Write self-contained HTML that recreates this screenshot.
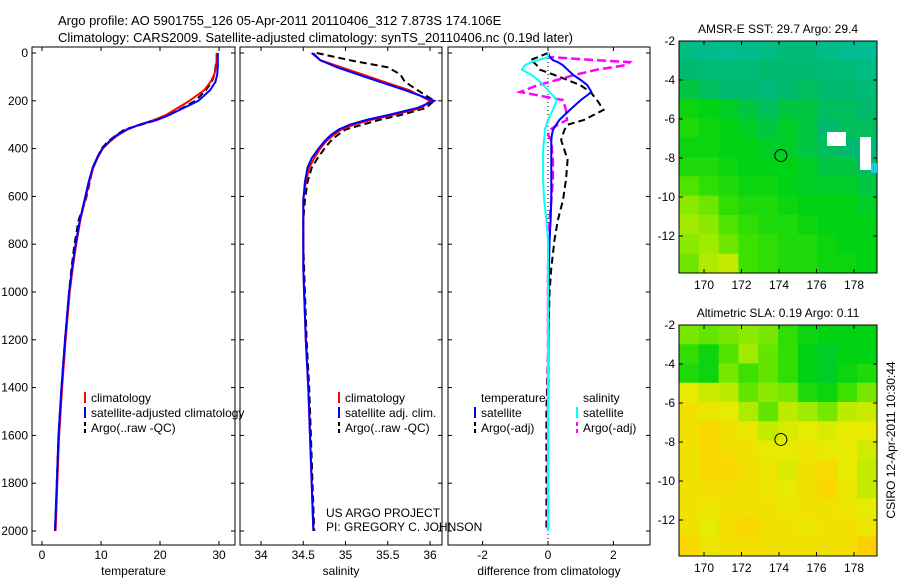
<!DOCTYPE html>
<html><head><meta charset="utf-8"><style>
body{margin:0;background:#fff}
svg{display:block;font-family:"Liberation Sans",sans-serif}
text{font-size:12px;fill:#000}
</style></head><body>
<svg id="fig" width="900" height="580">
<text x="58" y="25" style="font-size:13px">Argo profile: AO 5901755_126 05-Apr-2011 20110406_312 7.873S 174.106E</text>
<text x="58" y="42" style="font-size:13px">Climatology: CARS2009. Satellite-adjusted climatology: synTS_20110406.nc (0.19d later)</text>
</svg>
<script>
const depth=[0,30,60,90,120,155,200,230,260,280,300,320,345,370,400,440,480,540,615,700,800,900,1000,1200,1400,1600,1800,2000];
const tClim=[29.6,29.6,29.5,29.2,28.6,27.5,25.0,23.0,21.0,19.0,16.5,14.5,12.8,11.5,10.3,9.4,8.7,8.0,7.3,6.5,5.8,5.2,4.7,4.0,3.4,2.9,2.6,2.3];
const tSat=[29.8,29.8,29.8,29.7,29.4,28.5,26.5,24.0,21.5,19.5,16.5,14.3,12.6,11.4,10.2,9.3,8.6,7.9,7.2,6.4,5.7,5.1,4.6,3.9,3.3,2.8,2.5,2.2];
const tArgo=[29.7,29.6,29.4,29.2,28.8,27.8,26.0,23.8,21.5,19.5,16.8,14.0,12.5,11.2,10.1,9.3,8.6,8.1,7.4,6.2,5.5,5.0,4.6,3.9,3.3,2.8,2.5,2.2];
const sClim=[34.62,34.7,34.95,35.2,35.45,35.75,36.0,35.9,35.55,35.3,35.1,34.95,34.85,34.77,34.7,34.63,34.57,34.53,34.5,34.5,34.5,34.5,34.51,34.53,34.56,34.58,34.6,34.62];
const sSat=[34.6,34.7,34.9,35.15,35.4,35.7,36.05,35.85,35.5,35.25,35.05,34.92,34.82,34.75,34.68,34.6,34.55,34.52,34.5,34.5,34.5,34.5,34.51,34.53,34.56,34.58,34.6,34.62];
const sArgo=[34.66,35.05,35.5,35.65,35.7,35.85,36.05,35.95,35.65,35.4,35.2,35.0,34.9,34.82,34.75,34.67,34.6,34.55,34.52,34.5,34.5,34.51,34.52,34.54,34.57,34.59,34.61,34.63];
const dDepth=[0,17,30,38,50,70,92,113,134,163,197,238,280,300,322,343,364,406,447,530,615,700,782,900,1000,1500,2000];
const dT=[0.0,0.05,0.15,0.3,0.45,0.6,0.77,1.0,1.2,1.33,1.0,0.67,0.35,0.25,0.15,0.12,0.1,0.1,0.1,0.1,0.1,0.08,0.05,0.03,0.02,0.0,0.0];
const dTa=[0.0,-0.3,-0.55,-0.45,-0.35,-0.25,0.2,0.6,0.98,1.3,1.5,1.7,1.1,0.6,0.5,0.45,0.4,0.5,0.6,0.55,0.46,0.3,0.2,0.1,0.05,-0.05,-0.05];
const dS=[0.0,0.0,-0.3,-0.5,-0.7,-0.8,-0.5,-0.3,-0.15,0.05,0.27,0.15,0.0,-0.05,-0.1,-0.1,-0.12,-0.15,-0.15,-0.15,-0.12,-0.05,0.0,0.0,0.0,0.0,0.0];
const dSa=[0.0,0.05,1.5,2.5,2.4,1.5,0.8,0.27,-0.3,-0.85,0.46,0.55,0.58,0.3,0.05,0.0,0.1,0.12,0.15,0.15,0.1,0.05,0.03,0.0,0.0,0.0,0.0];
const depthTicks=[0,200,400,600,800,1000,1200,1400,1600,1800,2000];
const lonTicks=[170,172,174,176,178];
const sstLat=[-2,-4,-6,-8,-10,-12];
const sslaLat=[-2,-4,-6,-8,-10,-12];
const sstGrid=[
[.36,.34,.33,.34,.36,.38,.38,.35,.33,.32],
[.4,.38,.38,.38,.4,.4,.4,.38,.38,.36],
[.45,.42,.4,.4,.38,.4,.42,.4,.4,.38],
[.52,.5,.48,.45,.42,.45,.45,.42,.42,.4],
[.55,.52,.5,.48,.45,.48,.45,.4,.42,.42],
[.52,.52,.5,.5,.48,.48,.45,.42,.4,.38],
[.55,.55,.52,.5,.5,.5,.48,.45,.45,.42],
[.62,.58,.55,.52,.52,.5,.48,.48,.48,.45],
[.68,.65,.58,.55,.55,.52,.5,.5,.5,.48],
[.7,.68,.62,.58,.55,.55,.52,.5,.5,.5],
[.68,.7,.65,.6,.58,.55,.55,.52,.5,.5],
[.65,.72,.75,.6,.58,.55,.55,.52,.52,.5]];
const sslaGrid=[
[.66,.64,.66,.68,.66,.58,.52,.5,.5,.5],
[.58,.52,.62,.7,.64,.58,.5,.48,.5,.5],
[.55,.52,.66,.6,.64,.58,.5,.48,.52,.55],
[.8,.76,.74,.64,.68,.66,.55,.52,.6,.66],
[.85,.83,.8,.72,.64,.74,.7,.66,.74,.76],
[.85,.9,.85,.82,.75,.78,.8,.78,.8,.8],
[.84,.9,.87,.85,.8,.8,.83,.8,.8,.77],
[.84,.9,.9,.87,.83,.78,.85,.88,.8,.75],
[.85,.87,.87,.85,.83,.8,.85,.9,.83,.75],
[.85,.83,.85,.85,.85,.83,.85,.85,.83,.8],
[.85,.8,.87,.9,.85,.85,.83,.85,.85,.83],
[.9,.83,.85,.87,.85,.85,.85,.85,.87,.93]];
const NS='http://www.w3.org/2000/svg';
const svg=document.getElementById('fig');
function el(t,a,p){const e=document.createElementNS(NS,t);for(const k in a)e.setAttribute(k,a[k]);(p||svg).appendChild(e);return e;}
function txt(x,y,s,anchor,p){const e=el('text',{x:x,y:y,'text-anchor':anchor||'start'},p);e.textContent=s;return e;}
const yD=d=>53+d*0.239;
const panels=[
 {x0:32,x1:235,name:'temperature',xs:v=>42+v*5.9,ticks:[0,10,20,30],label:'temperature'},
 {x0:240,x1:442,name:'salinity',xs:v=>261+(v-34)*84.5,ticks:[34,34.5,35,35.5,36],label:'salinity'},
 {x0:448,x1:650,name:'difference',xs:v=>548+v*32.7,ticks:[-2,0,2],label:'difference from climatology'}];
panels.forEach((p,i)=>{
 const g=el('g',{});
 
 
 el('rect',{x:p.x0,y:47,width:p.x1-p.x0,height:498,fill:'none',stroke:'#000'},g);
 depthTicks.forEach(d=>{const y=yD(d);el('line',{x1:p.x0,x2:p.x0+4,y1:y,y2:y,stroke:'#000'},g);el('line',{x1:p.x1,x2:p.x1-4,y1:y,y2:y,stroke:'#000'},g);
  if(i==0){const t=txt(p.x0-4,y+4,String(d),'end',g);}});
 p.ticks.forEach(v=>{const x=p.xs(v);el('line',{x1:x,x2:x,y1:545,y2:541,stroke:'#000'},g);el('line',{x1:x,x2:x,y1:47,y2:51,stroke:'#000'},g);
  const t=txt(x,559,String(v),'middle',g);});
 const t=txt((p.x0+p.x1)/2,575,p.label,'middle',g);
 p.g=g;});
function line(p,ds,vs,col,dash,w,name){const pts=ds.map((d,i)=>p.xs(vs[i]).toFixed(1)+','+yD(d).toFixed(1)).join(' ');
 const e=el('polyline',{points:pts,fill:'none',stroke:col,'stroke-width':w||2,'stroke-dasharray':dash||'none'},p.g);
 }
line(panels[0],depth,tArgo,'#000','7,4',2,'temp-argo-line');
line(panels[0],depth,tClim,'#f00',null,2,'temp-climatology-line');
line(panels[0],depth,tSat,'#00f',null,2,'temp-satellite-line');
line(panels[1],depth,sArgo,'#000','7,4',2,'sal-argo-line');
line(panels[1],depth,sClim,'#f00',null,2,'sal-climatology-line');
line(panels[1],depth,sSat,'#00f',null,2,'sal-satellite-line');
el('line',{x1:548,x2:548,y1:50,y2:540,stroke:'#000','stroke-dasharray':'1,3'},panels[2].g);
line(panels[2],dDepth,dTa,'#000','7,4',2,'diff-temp-argo-line');
line(panels[2],dDepth,dSa,'#f0f','9,4',2.5,'diff-sal-argo-line');
line(panels[2],dDepth,dT,'#00f',null,2,'diff-temp-satellite-line');
line(panels[2],dDepth,dS,'#0ff',null,2,'diff-sal-satellite-line');
function legend(x,y,items,name){const g=el('g',{});
 items.forEach((it,i)=>{const yy=y+i*15;if(it[1])el('line',{x1:x,x2:x,y1:yy-10,y2:yy+1,stroke:it[1],'stroke-width':2,'stroke-dasharray':it[2]||'none'},g);
  const t=txt(x+6,yy,it[0],'start',g);});}
legend(85,402,[['climatology','#f00'],['satellite-adjusted climatology','#00f'],['Argo(..raw -QC)','#000','4,3']],'temp-legend');
legend(339,402,[['climatology','#f00'],['satellite adj. clim.','#00f'],['Argo(..raw -QC)','#000','4,3']],'sal-legend');
legend(475,402,[['temperature',null],['satellite','#00f'],['Argo(-adj)','#000','4,3']],'diff-temp-legend');
legend(577,402,[['salinity',null],['satellite','#0ff'],['Argo(-adj)','#f0f','4,3']],'diff-sal-legend');
txt(326,517,'US ARGO PROJECT');txt(326,531,'PI: GREGORY C. JOHNSON');
function cmap(v){
 const stops=[[0.3,[0,190,160]],[0.4,[0,185,110]],[0.5,[0,210,20]],[0.6,[60,225,0]],[0.7,[160,235,0]],[0.8,[230,235,0]],[0.9,[250,215,0]],[1,[255,190,0]]];
 if(v<=0.3)return 'rgb(0,190,160)';
 for(let i=1;i<stops.length;i++){if(v<=stops[i][0]){const a=stops[i-1],b=stops[i],f=(v-a[0])/(b[0]-a[0]);return 'rgb('+a[1].map((c,k)=>Math.round(c+(b[1][k]-c)*f)).join(',')+')';}}return 'rgb(255,190,0)';}
function map(y0,y1,grid,title,latT,name){const x0=679,x1=877;const g=el('g',{});
 const xs=lon=>704+(lon-170)*18.75, ys=lat=>y0+(-2-lat)*19.5;
 const R=grid.length,C=grid[0].length;
 grid.forEach((row,r)=>row.forEach((v,c)=>{const cell=el('rect',{x:x0+c*(x1-x0)/C,y:y0+r*(y1-y0)/R,width:(x1-x0)/C+0.5,height:(y1-y0)/R+0.5,fill:cmap(v)},g);
  }));
 el('rect',{x:x0,y:y0,width:x1-x0,height:y1-y0,fill:'none',stroke:'#000'},g);
 el('circle',{cx:xs(174.1),cy:ys(-7.87),r:6,fill:'none',stroke:'#000'},g);
 lonTicks.forEach(l=>{const x=xs(l);el('line',{x1:x,x2:x,y1:y1,y2:y1-4,stroke:'#000'},g);el('line',{x1:x,x2:x,y1:y0,y2:y0+4,stroke:'#000'},g);txt(x,y1+16,String(l),'middle',g);});
 latT.forEach(l=>{const y=ys(l);el('line',{x1:x0,x2:x0+4,y1:y,y2:y,stroke:'#000'},g);el('line',{x1:x1,x2:x1-4,y1:y,y2:y,stroke:'#000'},g);txt(x0-4,y+4,String(l),'end',g);});
 const t=txt(778,y0-8,title,'middle',g);
 return g;}
map(41,273,sstGrid,'AMSR-E SST: 29.7 Argo: 29.4',sstLat,'sst-map');
el('rect',{x:827,y:132,width:19,height:14,fill:'#fff'});
el('rect',{x:860,y:137,width:11,height:33,fill:'#fff'});
el('rect',{x:871,y:163,width:6,height:10,fill:'#20c8e0'});
map(325,556,sslaGrid,'Altimetric SLA: 0.19 Argo: 0.11',sslaLat,'sla-map');
const st=txt(0,0,'CSIRO 12-Apr-2011 10:30:44','middle');st.setAttribute('transform','translate(895,440) rotate(-90)');

</script>
</body></html>
